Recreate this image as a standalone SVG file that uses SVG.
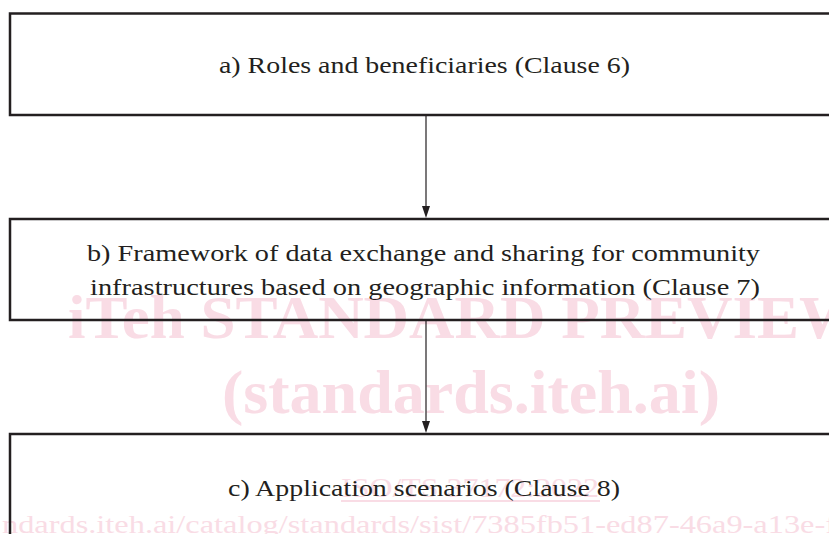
<svg xmlns="http://www.w3.org/2000/svg" width="829" height="534" viewBox="0 0 829 534">
<defs>
<style>
.wm{font-family:"Liberation Serif","Times New Roman",serif;font-weight:bold;fill:#f9dce5;}
.wm2{font-family:"Liberation Serif","Times New Roman",serif;fill:#f9dce5;}
.box{fill:none;stroke:#231f20;stroke-width:2.5;}
.lbl{font-family:"Liberation Serif","Times New Roman",serif;font-size:24px;fill:#231f20;}
.conn{stroke:#231f20;stroke-width:1.2;fill:none;}
.head{fill:#231f20;}
</style>
</defs>
<rect width="829" height="534" fill="#ffffff"/>
<g id="watermark">
<text class="wm" x="68" y="338" font-size="61" textLength="794" lengthAdjust="spacingAndGlyphs">iTeh STANDARD PREVIEW</text>
<text class="wm" x="222" y="413" font-size="61" textLength="498" lengthAdjust="spacingAndGlyphs">(standards.iteh.ai)</text>
<text class="wm2" x="341" y="497" font-size="27" textLength="258" lengthAdjust="spacingAndGlyphs">ISO/TS 37172:2022</text>
<rect x="341" y="500" width="259" height="2" fill="#f9dce5"/>
<text class="wm2" x="2" y="533" font-size="26" textLength="834" lengthAdjust="spacingAndGlyphs">ndards.iteh.ai/catalog/standards/sist/7385fb51-ed87-46a9-a13e-f</text>
</g>
<g id="connectors">
<line class="conn" x1="426" y1="115" x2="426" y2="207"/>
<polygon class="head" points="422,206 430,206 426,218"/>
<line class="conn" x1="426" y1="321" x2="426" y2="422"/>
<polygon class="head" points="422,421 430,421 426,433"/>
</g>
<g id="node-a">
<rect class="box" x="10" y="13.5" width="830" height="101.5"/>
<text class="lbl" x="219" y="73" textLength="411" lengthAdjust="spacingAndGlyphs">a) Roles and beneficiaries (Clause 6)</text>
</g>
<g id="node-b">
<rect class="box" x="10" y="219" width="830" height="101"/>
<text class="lbl" x="87" y="261" textLength="673" lengthAdjust="spacingAndGlyphs">b) Framework of data exchange and sharing for community</text>
<text class="lbl" x="90" y="295" textLength="670" lengthAdjust="spacingAndGlyphs">infrastructures based on geographic information (Clause 7)</text>
</g>
<g id="node-c">
<rect class="box" x="10" y="434" width="830" height="130"/>
<text class="lbl" x="228" y="496" textLength="392" lengthAdjust="spacingAndGlyphs">c) Application scenarios (Clause 8)</text>
</g>
</svg>
